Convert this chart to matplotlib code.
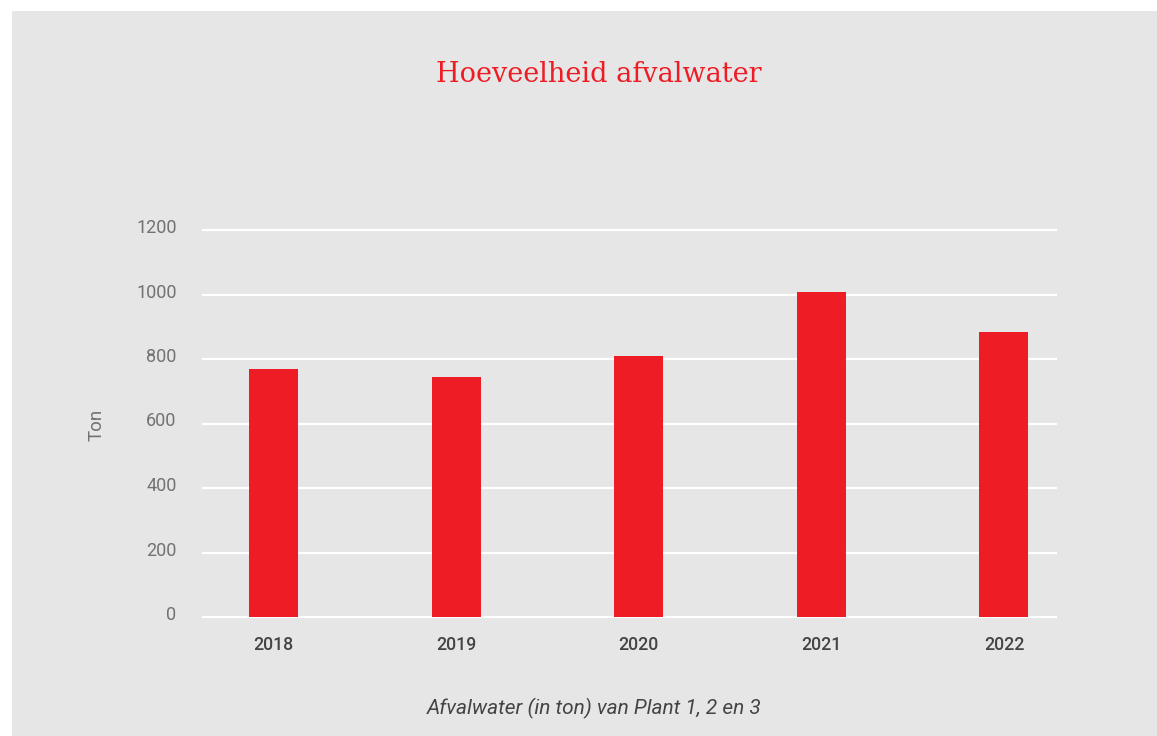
import matplotlib.pyplot as plt
import matplotlib.transforms as mtransforms
from matplotlib.patches import Rectangle
import numpy as np

years = ['2018', '2019', '2020', '2021', '2022']
afvalwater = [769, 745, 810, 1008, 884]
yticks = [0, 200, 400, 600, 800, 1000, 1200]

red = '#EE1C25'
bg = '#E6E6E6'

W, H = 1157, 736
fig = plt.figure(figsize=(W / 100, H / 100), dpi=100)
fig.patch.set_facecolor('white')
fig.patches.append(Rectangle((12 / W, 0), 1, 1 - 11 / H, transform=fig.transFigure,
                             facecolor=bg, edgecolor='none', zorder=-5))

ax = fig.add_axes([203 / W, 1 - 617 / H, (1056 - 203) / W, (617 - 230) / H])
ax.set_facecolor('none')

x = np.arange(len(years))
ax.bar(x, afvalwater, width=0.268, color=red, zorder=3)

ax.set_xlim(-0.386, 4.285)
ax.set_ylim(0, 1200)
ax.set_yticks(yticks)
ax.set_yticklabels([str(t) for t in yticks], fontfamily='Roboto',
                   fontsize=13, color='#727272')
ax.set_xticks(x)
ax.set_xticklabels(years, fontfamily='Roboto', fontweight='medium', fontsize=12.8, color='#444444')
ax.tick_params(axis='y', length=0, pad=19)
ax.tick_params(axis='x', length=0, pad=14)
ax.grid(axis='y', color='white', linewidth=1.6, zorder=1)
ax.set_axisbelow(True)
for s in ax.spines.values():
    s.set_visible(False)
for gl in ax.get_ygridlines():
    gl.set_clip_on(False)

# y labels sit a little above their gridline
shift = mtransforms.ScaledTranslation(0, 4 / 100, fig.dpi_scale_trans)
for lab in ax.get_yticklabels():
    lab.set_transform(lab.get_transform() + shift)

fig.text(97 / W, 1 - 425 / H, 'Ton', rotation=90, ha='center', va='center',
         fontfamily='Roboto', fontsize=13.5, color='#727272')
fig.text(599 / W, 1 - 74 / H, 'Hoeveelheid afvalwater', ha='center', va='center',
         fontfamily='DejaVu Serif', fontsize=19.5, color=red)
fig.text(594 / W, 1 - 708 / H, 'Afvalwater (in ton) van Plant 1, 2 en 3', ha='center', va='center',
         fontfamily='Roboto', fontstyle='italic', fontsize=15, color='#444444')

fig.savefig('out.png', dpi=100, facecolor=fig.get_facecolor())
